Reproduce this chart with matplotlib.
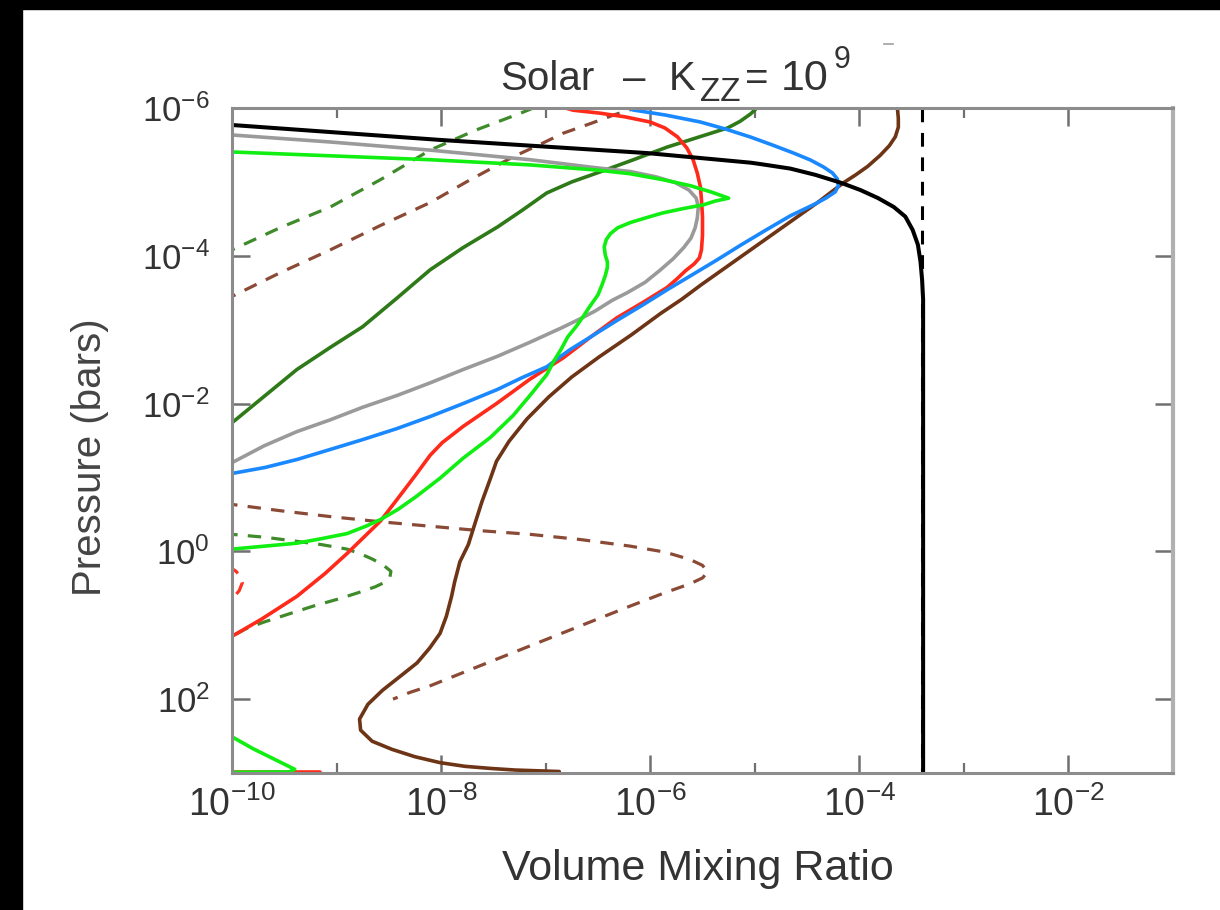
import numpy as np
import matplotlib
matplotlib.use("Agg")
import matplotlib.pyplot as plt
from matplotlib.ticker import FixedLocator, FixedFormatter, NullFormatter
from matplotlib.patches import Rectangle
from matplotlib.lines import Line2D

# ---- species profiles: (log10 VMR, log10 P[bar]) pairs ----
black_x = [-10.5, -10.0, -8.01, -6.03, -5.04, -4.94, -4.66, -4.42, -4.18, -3.99, -3.82, -3.67, -3.56, -3.49, -3.44, -3.415, -3.40, -3.39, -3.39]
black_p = [-5.83, -5.77, -5.568, -5.39, -5.26, -5.24, -5.18, -5.095, -4.99, -4.89, -4.78, -4.66, -4.53, -4.35, -4.15, -3.92, -3.68, -3.41, 3.0]

gray_x = [-10.5, -10.0, -9.06, -8.105, -7.15, -6.51, -6.19, -5.95, -5.76, -5.63, -5.56, -5.54, -5.55, -5.57, -5.61, -5.68, -5.78, -5.91, -6.05, -6.22, -6.36, -6.53, -6.68, -6.84, -7.15, -7.46, -7.79, -8.105, -8.42, -8.75, -9.06, -9.38, -9.69, -10.0, -10.3]
gray_p = [-5.68, -5.635, -5.54, -5.43, -5.30, -5.19, -5.14, -5.07, -4.99, -4.89, -4.78, -4.66, -4.51, -4.38, -4.24, -4.11, -3.96, -3.80, -3.64, -3.50, -3.40, -3.25, -3.14, -3.03, -2.83, -2.64, -2.46, -2.28, -2.11, -1.95, -1.78, -1.62, -1.43, -1.20, -1.05]

red_x = [-6.86, -6.737, -6.48, -6.24, -6.0, -5.86, -5.74, -5.65, -5.59, -5.55, -5.52, -5.51, -5.50, -5.50, -5.51, -5.53, -5.58, -5.66, -5.75, -5.84, -6.08, -6.32, -6.58, -6.83, -7.15, -7.47, -7.79, -7.99, -8.105, -8.24, -8.39, -8.58, -8.90, -9.11, -9.38, -9.72, -10.0, -10.3]
red_p = [-6.02, -5.97, -5.93, -5.88, -5.81, -5.73, -5.61, -5.46, -5.30, -5.12, -4.93, -4.76, -4.53, -4.28, -4.08, -3.97, -3.89, -3.80, -3.68, -3.57, -3.36, -3.16, -2.89, -2.62, -2.33, -2.00, -1.69, -1.47, -1.30, -1.04, -0.76, -0.41, 0.03, 0.30, 0.61, 0.92, 1.15, 1.35]

red_deep_x = [-10.3, -10.0, -9.6, -9.16]
red_deep_p = [2.99, 2.99, 2.99, 2.99]

red_dash_x = [-10.05, -9.97, -9.92, -9.90, -9.93, -10.0, -10.05]
red_dash_p = [0.20, 0.26, 0.33, 0.42, 0.53, 0.65, 0.70]

blue_x = [-6.239, -6.163, -5.856, -5.522, -5.282, -5.043, -4.833, -4.632, -4.469, -4.344, -4.258, -4.211, -4.201, -4.230, -4.316, -4.421, -4.660, -4.890, -5.129, -5.359, -5.598, -5.837, -6.067, -6.306, -6.536, -6.766, -6.861, -6.986, -7.225, -7.464, -7.789, -8.105, -8.421, -8.746, -9.062, -9.378, -9.684, -10.0, -10.306]
blue_p = [-6.014, -5.973, -5.905, -5.811, -5.716, -5.608, -5.50, -5.392, -5.297, -5.203, -5.122, -5.041, -4.946, -4.865, -4.784, -4.703, -4.541, -4.351, -4.149, -3.946, -3.743, -3.541, -3.338, -3.135, -2.932, -2.730, -2.635, -2.50, -2.351, -2.189, -2.0, -1.824, -1.662, -1.514, -1.378, -1.243, -1.135, -1.054, -0.973]

brown_x = [-3.63, -3.636, -3.627, -3.627, -3.656, -3.713, -3.80, -3.92, -4.04, -4.15, -4.28, -4.40, -4.66, -4.94, -5.23, -5.51, -5.70, -5.90, -6.18, -6.49, -6.75, -6.97, -7.18, -7.35, -7.47, -7.53, -7.61, -7.68, -7.74, -7.82, -7.87, -7.90, -7.95, -8.01, -8.11, -8.23, -8.39, -8.56, -8.70, -8.78, -8.77, -8.66, -8.47, -8.25, -8.01, -7.77, -7.51, -7.29, -6.87]
brown_p = [-6.1, -6.0, -5.86, -5.74, -5.61, -5.49, -5.36, -5.21, -5.09, -4.99, -4.85, -4.72, -4.46, -4.18, -3.89, -3.61, -3.41, -3.22, -2.93, -2.63, -2.36, -2.09, -1.79, -1.49, -1.22, -0.98, -0.67, -0.36, -0.09, 0.14, 0.41, 0.61, 0.88, 1.11, 1.31, 1.51, 1.69, 1.88, 2.07, 2.27, 2.42, 2.57, 2.68, 2.78, 2.86, 2.91, 2.94, 2.96, 2.98]

brown_dash_top_x = [-10.3, -10.0, -9.54, -9.06, -8.58, -8.105, -7.72, -7.31, -7.05, -6.83, -6.57, -6.35, -6.14]
brown_dash_top_p = [-3.30, -3.45, -3.77, -4.08, -4.41, -4.72, -5.03, -5.34, -5.51, -5.66, -5.79, -5.905, -6.0]

brown_dash_loop_x = [-10.3, -10.0, -9.54, -9.06, -8.58, -8.105, -7.63, -7.15, -6.67, -6.19, -5.86, -5.62, -5.50, -5.45, -5.50, -5.62, -5.86, -6.19, -6.67, -7.15, -7.63, -8.105, -8.30, -8.46]
brown_dash_loop_p = [-0.68, -0.635, -0.55, -0.47, -0.40, -0.34, -0.28, -0.23, -0.16, -0.07, 0.01, 0.11, 0.19, 0.28, 0.36, 0.44, 0.56, 0.74, 1.01, 1.28, 1.55, 1.82, 1.91, 2.0]

lime_x = [-10.5, -10.0, -8.105, -7.15, -6.51, -6.19, -5.88, -5.62, -5.41, -5.25, -5.38, -5.49, -5.68, -5.88, -6.05, -6.19, -6.31, -6.38, -6.42, -6.44, -6.43, -6.41, -6.41, -6.43, -6.46, -6.50, -6.58, -6.64, -6.71, -6.79, -6.85, -6.92, -6.99, -7.15, -7.31, -7.53, -7.79, -8.01, -8.23, -8.41, -8.58, -8.72, -8.90, -9.15, -9.38, -9.69, -10.0, -10.3]
lime_p = [-5.41, -5.405, -5.30, -5.23, -5.16, -5.11, -5.03, -4.95, -4.86, -4.78, -4.74, -4.69, -4.64, -4.58, -4.51, -4.45, -4.38, -4.30, -4.22, -4.12, -4.01, -3.92, -3.84, -3.73, -3.61, -3.47, -3.31, -3.18, -3.04, -2.90, -2.74, -2.58, -2.39, -2.11, -1.84, -1.54, -1.26, -0.99, -0.75, -0.57, -0.43, -0.34, -0.24, -0.17, -0.11, -0.07, -0.03, 0.0]

lime_deep_x = [-10.2, -10.0, -9.8, -9.6, -9.40, -9.45, -10.0, -10.3]
lime_deep_p = [2.42, 2.51, 2.67, 2.81, 2.95, 2.985, 2.99, 2.99]

dkgreen_x = [-10.3, -10.0, -9.69, -9.38, -9.06, -8.75, -8.42, -8.105, -7.79, -7.46, -7.22, -6.99, -6.75, -6.48, -6.16, -5.84, -5.55, -5.26, -5.14, -5.04, -4.98]
dkgreen_p = [-1.50, -1.74, -2.10, -2.46, -2.76, -3.04, -3.43, -3.81, -4.11, -4.39, -4.62, -4.85, -5.00, -5.135, -5.30, -5.47, -5.60, -5.73, -5.82, -5.92, -6.0]

dkgreen_dash_top_x = [-10.3, -10.0, -9.54, -9.06, -8.58, -8.105, -7.67, -7.24, -7.05]
dkgreen_dash_top_p = [-3.90, -4.08, -4.38, -4.66, -5.03, -5.43, -5.70, -5.93, -6.04]

dkgreen_dash_loop_x = [-10.3, -10.0, -9.68, -9.38, -9.14, -8.90, -8.76, -8.65, -8.55, -8.48, -8.49, -8.54, -8.63, -8.75, -8.97, -9.22, -9.44, -9.70, -9.87, -10.0, -10.3]
dkgreen_dash_loop_p = [-0.26, -0.23, -0.19, -0.135, -0.09, -0.03, 0.04, 0.11, 0.19, 0.27, 0.35, 0.42, 0.48, 0.54, 0.64, 0.74, 0.84, 0.96, 1.05, 1.15, 1.35]

h2o_bulk = 4.0e-4  # well-mixed abundance (dashed reference)

x_tick_vals = [1e-10, 1e-8, 1e-6, 1e-4, 1e-2]
x_tick_labels = [r"$10^{-10}$", r"$10^{-8}$", r"$10^{-6}$", r"$10^{-4}$", r"$10^{-2}$"]
x_minor_vals = [1e-9, 1e-7, 1e-5, 1e-3, 1e-1]
y_tick_vals = [1e-6, 1e-4, 1e-2, 1e0, 1e2]
y_tick_labels = [r"$10^{-6}$", r"$10^{-4}$", r"$10^{-2}$", r"$10^{0}$", r"$10^{2}$"]

SANS = ["Liberation Sans", "DejaVu Sans"]
plt.rcParams["mathtext.fontset"] = "custom"
plt.rcParams["mathtext.rm"] = "Liberation Sans"
plt.rcParams["mathtext.it"] = "Liberation Sans"

W, H = 1220, 910
fig = plt.figure(figsize=(W / 100, H / 100), dpi=100)
fig.patch.set_facecolor("white")
# dark frame along the top and left edges
fig.patches.append(Rectangle((0, 0), 22 / W, 1, transform=fig.transFigure, color="black", zorder=-1))
fig.patches.append(Rectangle((0, 1 - 9 / H), 1, 9 / H, transform=fig.transFigure, color="black", zorder=-1))

ax = fig.add_axes([232 / W, 1 - 773 / H, (1173 - 232) / W, (773 - 108) / H])
ax.set_xscale("log")
ax.set_yscale("log")
ax.set_xlim(1e-10, 1e-1)
ax.set_ylim(1e3, 1e-6)

lw = 2.6


def draw(xs, ps, color, ls="-", width=lw, z=2):
    ax.plot(10 ** np.asarray(xs), 10 ** np.asarray(ps), color=color, ls=ls, lw=width,
            zorder=z, solid_capstyle="round", solid_joinstyle="round", dash_capstyle="butt")


dash = (0, (4.2, 3.2))
draw(brown_dash_top_x, brown_dash_top_p, "#8a4a35", ls=dash, width=2.3)
draw(brown_dash_loop_x, brown_dash_loop_p, "#8a4a35", ls=dash, width=2.3)
draw(dkgreen_dash_top_x, dkgreen_dash_top_p, "#3f8a2a", ls=dash, width=2.3)
draw(dkgreen_dash_loop_x, dkgreen_dash_loop_p, "#3f8a2a", ls=dash, width=2.3)
draw(red_dash_x, red_dash_p, "#ff3322", ls=dash, width=2.3)
ax.plot([h2o_bulk, h2o_bulk], [1e-6, 1e3], color="black", ls=(0, (4.5, 3.5)), lw=2.2, zorder=2)

draw(dkgreen_x, dkgreen_p, "#2f7a18")
draw(gray_x, gray_p, "#9a9a9a")
draw(brown_x, brown_p, "#6e3416")
draw(red_x, red_p, "#ff2a1a")
draw(red_deep_x, red_deep_p, "#ff2a1a")
draw(blue_x, blue_p, "#1a88ff")
draw(lime_x, lime_p, "#11ee11")
draw(lime_deep_x, lime_deep_p, "#11ee11")
draw(black_x, black_p, "black", width=2.9)

for s in ax.spines.values():
    s.set_color("#8c8c8c")
    s.set_linewidth(2.2)
ax.spines["right"].set_color("#b0b0b0")
ax.spines["right"].set_linewidth(3.0)

ax.xaxis.set_major_locator(FixedLocator(x_tick_vals))
ax.xaxis.set_major_formatter(FixedFormatter(x_tick_labels))
ax.xaxis.set_minor_locator(FixedLocator(x_minor_vals))
ax.xaxis.set_minor_formatter(NullFormatter())
ax.yaxis.set_major_locator(FixedLocator(y_tick_vals))
ax.yaxis.set_major_formatter(FixedFormatter(y_tick_labels))
ax.yaxis.set_minor_locator(FixedLocator([]))

ax.tick_params(which="major", direction="in", length=13, width=1.8, color="#707070",
               top=True, right=True, labelsize=27, labelcolor="#333333")
ax.tick_params(which="minor", direction="in", length=7, width=1.6, color="#707070",
               top=True, right=True)
ax.tick_params(axis="x", which="major", pad=10)
ax.tick_params(axis="y", which="major", pad=16)
for lab in ax.get_xticklabels():
    lab.set_family(SANS)
for lab in ax.get_yticklabels():
    lab.set_family(SANS)
    lab.set_fontsize(25)


def px(x, y):
    return x / W, 1 - y / H


# axis titles
fig.text(*px(698, 880), "Volume Mixing Ratio", fontsize=31, family=SANS, color="#333333",
         ha="center", va="baseline")
fig.text(*px(90, 457), "Pressure (bars)", fontsize=29, family=SANS, color="#444444",
         ha="center", va="center", rotation=90)

# plot title, assembled piece by piece
tcol = "#333333"
fig.text(*px(500, 90), "Solar", fontsize=29, family=SANS, color=tcol, va="baseline")
fig.text(*px(634, 90), "\u2013", fontsize=29, family=SANS, color=tcol, va="baseline", ha="center")
fig.text(*px(669, 90), "K", fontsize=29, family=SANS, color=tcol, va="baseline")
fig.text(*px(700, 101), "ZZ", fontsize=24, family=SANS, color=tcol, va="baseline")
fig.text(*px(745, 90), "=", fontsize=29, family=SANS, color=tcol, va="baseline")
fig.text(*px(781, 90), "10", fontsize=31, family=SANS, color=tcol, va="baseline")
fig.text(*px(834, 68), "9", fontsize=22, family=SANS, color=tcol, va="baseline")
fig.add_artist(Line2D([884 / W, 893 / W], [1 - 44 / H, 1 - 44 / H], color="#a0a0a0", lw=1.2))

fig.savefig("out.png", dpi=100, facecolor="white")
